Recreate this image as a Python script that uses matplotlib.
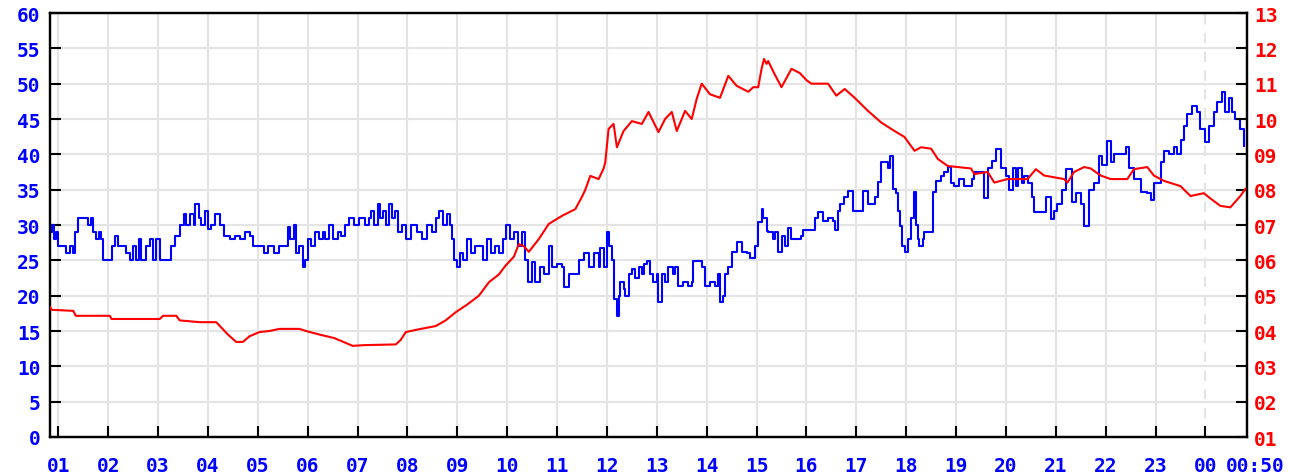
import matplotlib
matplotlib.use("Agg")
import matplotlib.pyplot as plt
from matplotlib.font_manager import FontProperties

# time in minutes since 00:00 of the first day (chart runs 00:50 -> next day 00:50)
blue_t = [50, 52, 55, 57, 60, 64, 69, 74, 78, 80, 84, 91, 96, 99, 102, 105, 109, 111, 114, 122,
          124, 128, 132, 139, 142, 146, 150, 153, 157, 160, 165, 170, 174, 178, 182, 192, 196, 200,
          206, 211, 214, 218, 223, 225, 229, 232, 236, 240, 244, 249, 254, 259, 266, 272, 278, 284,
          290, 294, 302, 307, 312, 316, 320, 325, 331, 336, 339, 343, 346, 350, 354, 357, 360, 364,
          369, 374, 378, 381, 386, 391, 396, 400, 405, 410, 416, 422, 429, 434, 436, 440, 444, 447,
          451, 454, 458, 462, 465, 469, 474, 478, 484, 492, 498, 504, 510, 514, 518, 523, 528, 531,
          534, 536, 540, 543, 547, 552, 556, 561, 566, 571, 576, 580, 585, 590, 595, 598, 603, 608,
          613, 618, 621, 625, 630, 634, 639, 644, 650, 654, 660, 666, 668, 674, 682, 686, 692, 698,
          704, 710, 712, 716, 720, 723, 726, 729, 732, 734, 736, 740, 742, 746, 750, 754, 758, 762,
          765, 768, 772, 776, 780, 782, 786, 790, 794, 799, 802, 806, 812, 818, 822, 824, 830, 834,
          838, 844, 850, 854, 856, 860, 862, 866, 870, 876, 882, 888, 892, 898, 902, 906, 908, 912,
          914, 920, 922, 926, 930, 934, 938, 942, 948, 954, 956, 966, 970, 974, 980, 986, 992, 994,
          998, 1000, 1005, 1010, 1016, 1024, 1028, 1034, 1042, 1046, 1050, 1056, 1058, 1060, 1064,
          1068, 1070, 1072, 1075, 1078, 1082, 1086, 1089, 1092, 1094, 1096, 1100, 1102, 1108, 1112,
          1116, 1122, 1126, 1130, 1134, 1138, 1144, 1149, 1154, 1159, 1162, 1170, 1174, 1178, 1183,
          1188, 1194, 1200, 1204, 1208, 1212, 1215, 1219, 1222, 1226, 1231, 1234, 1242, 1248, 1254,
          1258, 1262, 1267, 1272, 1276, 1280, 1284, 1290, 1294, 1300, 1306, 1312, 1316, 1322, 1326,
          1330, 1340, 1344, 1348, 1354, 1362, 1370, 1374, 1378, 1386, 1390, 1396, 1402, 1406, 1410,
          1414, 1418, 1424, 1430, 1434, 1440, 1444, 1450, 1454, 1460, 1464, 1468, 1472, 1476, 1482,
          1486]
blue_v = [29, 30, 28, 29, 27, 27, 26, 27, 26, 29, 31, 31, 30, 31, 29, 28, 29, 28, 25, 25,
          27, 28.5, 27, 27, 26, 25, 27, 25, 28, 25, 27, 28, 25, 28, 25, 25, 27, 28.5,
          30, 31.5, 30, 31.5, 30, 33, 31, 30, 32, 29.5, 30, 31.5, 30, 28.5, 28, 28.5, 28, 29,
          28.5, 27, 27, 26, 27, 27, 26, 27, 27, 29.7, 28, 30, 26, 27, 24, 25, 28, 27,
          29, 28, 29, 28, 30, 28, 29, 28.5, 30, 31, 30, 31, 30, 31, 32, 30, 33, 31,
          32, 30, 33, 31, 32, 29, 30, 28, 30, 29, 28, 30, 29, 31, 32, 30, 31.5, 30,
          28, 25, 24, 26, 25, 28, 26, 27, 27, 25, 28, 26, 27, 26, 28, 30, 28, 29,
          27, 29, 25, 22, 24.8, 22, 24, 23, 27, 24, 24.5, 24, 21.2, 23, 23, 25, 26, 24,
          26, 24, 26.7, 24, 29, 27, 25, 19.5, 17.1, 20, 21.9, 21, 20, 23, 23.8, 22.5, 24, 23,
          24.5, 24.9, 23, 22, 23, 19.1, 23, 22, 24, 23, 24, 21.4, 22, 21.4, 22, 24.9, 24.9, 24,
          21.4, 22, 21.4, 23, 19.1, 20, 23, 24, 26.2, 27.6, 26.2, 26, 25.4, 27, 30.4, 32.3, 31, 29.2,
          29, 28, 29, 26.2, 28.5, 27, 29.6, 28, 28, 28.5, 29.3, 29.3, 31, 31.8, 30.6, 31, 30.6, 29.3,
          32, 33, 34, 34.8, 32, 32, 34.8, 33, 33.9, 36.1, 38.9, 38.9, 38, 39.8, 35.1,
          34.5, 32, 29.9, 27, 26.2, 28, 31, 34.7, 30, 28, 27, 28, 29, 29, 34.7,
          36.2, 36.9, 37.5, 38.2, 36, 35.5, 36.5, 35.5, 35.5, 36.5, 37.5, 37.5, 33.8, 38, 39,
          40.8, 38, 37, 35, 38, 35.5, 38, 36, 37, 36, 34, 31.8, 31.8, 34, 30.8,
          32, 33, 35, 37.9, 37.9, 33.2, 34.5, 33, 29.9, 35, 36, 39.8, 38.5, 41.9, 38.9,
          40, 40, 41, 38, 36.5, 34.6, 34.5, 33.5, 36, 38.9, 40.5, 40, 41, 40, 42,
          44, 45.7, 46.8, 46, 43.6, 41.7, 44, 46, 47.4, 48.8, 46, 48, 46, 45, 43.6,
          41.2]

red_t = [50, 52, 78, 81, 122, 124, 182, 186, 202, 206, 230, 250, 256, 264, 274, 282, 290, 302,
         314, 326, 338, 350, 358, 374, 392, 414, 428, 466, 472, 478, 494, 514, 526, 538, 552, 566,
         578, 590, 598, 608, 614, 620, 626, 638, 650, 666, 682, 690, 694, 700, 710, 716, 718, 722,
         728, 732, 740, 750, 762, 770, 782, 790, 798, 804, 814, 822, 828, 834, 844, 856, 866, 876,
         890, 896, 902, 906, 909, 912, 914, 921, 930, 942, 952, 960, 966, 986, 996, 1006, 1018,
         1034, 1050, 1066, 1078, 1090, 1098, 1110, 1118, 1130, 1158, 1162, 1178, 1186, 1202, 1226,
         1236, 1246, 1270, 1274, 1282, 1294, 1302, 1314, 1326, 1346, 1354, 1370, 1378, 1390, 1410,
         1422, 1438, 1446, 1458, 1470, 1482, 1488]
red_v = [4.68, 4.6, 4.57, 4.43, 4.43, 4.34, 4.34, 4.43, 4.43, 4.3, 4.25, 4.25, 4.1, 3.9, 3.69,
         3.69, 3.85, 3.97, 4.0, 4.06, 4.06, 4.06, 4.0, 3.9, 3.8, 3.58, 3.6, 3.62, 3.75, 3.97,
         4.05, 4.14, 4.3, 4.53, 4.75, 5.0, 5.38, 5.6, 5.85, 6.1, 6.46, 6.4, 6.24, 6.6, 7.03,
         7.26, 7.45, 7.8, 8.0, 8.39, 8.3, 8.6, 8.78, 9.72, 9.86, 9.2, 9.66, 9.94, 9.86, 10.2,
         9.63, 10.0, 10.2, 9.66, 10.23, 10.0, 10.57, 11.0, 10.7, 10.6, 11.22, 10.94, 10.77, 10.9,
         10.9, 11.42, 11.7, 11.56, 11.64, 11.3, 10.9, 11.42, 11.3, 11.1, 11.0, 11.0, 10.66, 10.85,
         10.6, 10.23, 9.9, 9.66, 9.49, 9.1, 9.2, 9.16, 8.87, 8.67, 8.6, 8.44, 8.5, 8.2, 8.3,
         8.3, 8.58, 8.4, 8.3, 8.2, 8.5, 8.64, 8.6, 8.4, 8.3, 8.3, 8.58, 8.64, 8.4, 8.25, 8.1,
         7.82, 7.9, 7.75, 7.54, 7.5, 7.82, 8.02]

hour_ticks = list(range(60, 1441, 60))
hour_labels = ["%02d" % (h % 24) for h in range(1, 25)]
end_tick = 1490
end_label = "00:50"
left_ticks = list(range(0, 61, 5))
right_ticks = list(range(1, 14))

BLUE = "#0000ff"
RED = "#ff0000"
FONT = dict(family="DejaVu Sans Mono", weight="bold", size=14)

fig = plt.figure(figsize=(12.9, 4.77), dpi=100)
ax = fig.add_axes([50 / 1290, 1 - 438 / 477, (1247 - 50) / 1290, (438 - 14) / 477])
ax.set_xlim(50, end_tick)
ax.set_ylim(0, 60)

ax.plot(blue_t, blue_v, color=BLUE, lw=1.5, drawstyle="steps-post", zorder=3)

ax.set_yticks(left_ticks)
ax.set_yticklabels([str(v) for v in left_ticks])
ax.set_xticks(hour_ticks)
ax.set_xticklabels(hour_labels)
ax.grid(True, color="#e4e4e4", lw=1.5, zorder=0)
# midnight gridline is dashed
for pos, gl in zip(hour_ticks, ax.xaxis.get_gridlines()):
    if pos == 1440:
        gl.set_linestyle((0, (5, 4)))

ax.tick_params(axis="y", direction="in", length=8, width=1.5, pad=7, colors="black",
               labelcolor=BLUE)
ax.tick_params(axis="x", direction="in", length=8, width=1.5, pad=14, colors="black",
               labelcolor=BLUE)
for lab in ax.get_yticklabels() + ax.get_xticklabels():
    lab.set_fontproperties(FontProperties(**FONT))
for s in ax.spines.values():
    s.set_linewidth(1.6)
    s.set_color("black")

# end-of-range label, placed just right of the "00" label
ax.annotate(end_label, xy=(end_tick, 0), xycoords=("data", "axes fraction"),
            xytext=(-15, -14), textcoords="offset points", ha="left", va="top",
            color=BLUE, fontproperties=FontProperties(**FONT), annotation_clip=False)

ax2 = ax.twinx()
ax2.set_ylim(1, 13)
ax2.plot(red_t, red_v, color=RED, lw=1.5, zorder=3)
ax2.set_yticks(right_ticks)
ax2.set_yticklabels(["%02d" % v for v in right_ticks])
ax2.tick_params(axis="y", direction="in", length=8, width=1.5, pad=5, colors="black",
                labelcolor=RED)
for lab in ax2.get_yticklabels():
    lab.set_fontproperties(FontProperties(**FONT))
for s in ax2.spines.values():
    s.set_linewidth(1.6)

fig.savefig("out.png", dpi=100)
